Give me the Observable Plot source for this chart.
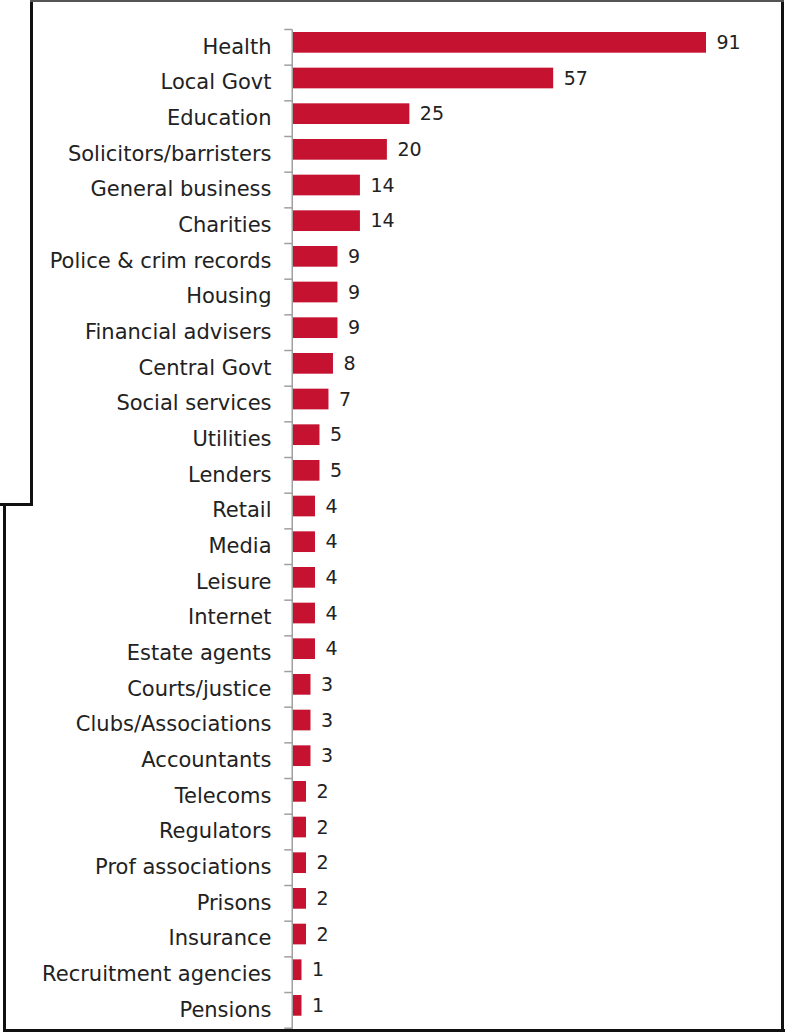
<!DOCTYPE html>
<html>
<head>
<meta charset="utf-8">
<script src="https://cdn.jsdelivr.net/npm/d3@7"></script>
<script src="https://cdn.jsdelivr.net/npm/@observablehq/plot@0.6"></script>
<style>
  html, body { margin: 0; padding: 0; background: #fff; }
  #wrap { position: relative; width: 787px; height: 1032px; overflow: hidden; }
  #chart { position: absolute; left: 0; top: 0; }
  .ln { position: absolute; background: #111; }
</style>
</head>
<body>
<div id="wrap">
  <div id="chart"></div>
  <div class="ln" style="left:30px; top:0; width:3px; height:506px;"></div>
  <div class="ln" style="left:0; top:503px; width:33px; height:3px;"></div>
  <div class="ln" style="left:3px; top:503px; width:3px; height:529px;"></div>
  <div class="ln" style="left:3px; top:1029px; width:782px; height:3px;"></div>
  <div class="ln" style="left:781px; top:0; width:3px; height:1032px;"></div>
  <div class="ln" style="left:30px; top:0; width:754px; height:2px; background:#555;"></div>
</div>
<script>
const categories = [
  "Health", "Local Govt", "Education", "Solicitors/barristers", "General business",
  "Charities", "Police & crim records", "Housing", "Financial advisers", "Central Govt",
  "Social services", "Utilities", "Lenders", "Retail", "Media", "Leisure", "Internet",
  "Estate agents", "Courts/justice", "Clubs/Associations", "Accountants", "Telecoms",
  "Regulators", "Prof associations", "Prisons", "Insurance", "Recruitment agencies", "Pensions"
];
const values = [91, 57, 25, 20, 14, 14, 9, 9, 9, 8, 7, 5, 5, 4, 4, 4, 4, 4, 3, 3, 3, 2, 2, 2, 2, 2, 1, 1];

const data = categories.map((c, i) => ({cat: c, value: values[i]}));

const plot = Plot.plot({
  width: 787,
  height: 1032,
  marginLeft: 293,
  marginRight: 85,
  marginTop: 24.5,
  marginBottom: 8.8,
  style: {fontFamily: "'DejaVu Sans', Verdana, sans-serif", background: "transparent", overflow: "visible"},
  x: {domain: [0, 91], axis: null},
  y: {domain: categories, paddingInner: 0.42, paddingOuter: 0.21, round: false, axis: null},
  marks: [
    Plot.barX(data, {x: "value", y: "cat", fill: "#c41230", insetRight: -4}),
    Plot.text(data, {x: "value", y: "cat", text: d => String(d.value), textAnchor: "start", dx: 14, fontSize: 19, fill: "#222"}),
    Plot.text(data, {y: "cat", text: "cat", frameAnchor: "left", textAnchor: "end", dx: -22, dy: 4, fontSize: 21, fill: "#222"})
  ]
});

document.getElementById("chart").appendChild(plot);

// axis line and boundary ticks, positioned from the plot's own scales
const ys = plot.scale("y");
const xs = plot.scale("x");
const x0 = xs.apply(0) - 0.75;
const g = d3.select(plot).append("g").attr("stroke", "#a0a0a0").attr("stroke-width", 1.5);
const tickYs = categories.map(c => ys.apply(c) + ys.bandwidth / 2 - 0.36 * ys.step);
tickYs.push(tickYs[tickYs.length - 1] + ys.step);
g.append("line").attr("x1", x0).attr("x2", x0).attr("y1", tickYs[0]).attr("y2", 1032);
g.selectAll(".tk").data(tickYs).join("line")
  .attr("x1", x0 - 8).attr("x2", x0).attr("y1", d => d).attr("y2", d => d);
</script>
</body>
</html>
